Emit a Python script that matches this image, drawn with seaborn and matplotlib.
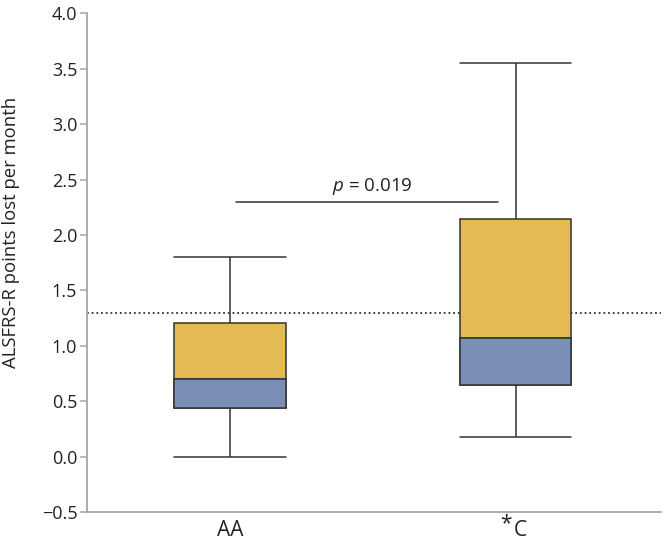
import pandas as pd
import matplotlib
matplotlib.use("Agg")
import matplotlib.pyplot as plt
import matplotlib.transforms as mtransforms
import seaborn as sns

# Summary values (ALSFRS-R decline by genotype)
genotypes = ["AA", "*C"]
whisker_low = [0.0, 0.18]
q1 = [0.44, 0.645]
median = [0.70, 1.07]
q3 = [1.205, 2.14]
whisker_high = [1.80, 3.55]

reference_line = 1.3
p_label = "0.019"
p_bracket_y = 2.30

yellow = "#E3BB52"
blue = "#7A8FB6"
dark = "#333333"
grey = "#A6A6A6"
text_col = "#222222"

# long table: the five summary points per group reproduce the box exactly
rows = []
for i, g in enumerate(genotypes):
    for v in (whisker_low[i], q1[i], median[i], q3[i], whisker_high[i]):
        rows.append({"genotype": g, "rate": v})
df = pd.DataFrame(rows)

sns.set_style("white")
plt.rcParams["font.family"] = ["Open Sans", "DejaVu Sans"]
plt.rcParams["mathtext.fontset"] = "custom"
plt.rcParams["mathtext.it"] = "Open Sans:italic"
plt.rcParams["mathtext.rm"] = "Open Sans"

fig = plt.figure(figsize=(6.64, 5.43), dpi=100)
ax = fig.add_axes([0.131, 0.0571, 0.865, 0.9184])

box_width = 0.39
line_kw = dict(color=dark, linewidth=1.1)
sns.boxplot(data=df, x="genotype", y="rate", order=genotypes, ax=ax,
            whis=(0, 100), width=box_width, color=yellow, saturation=1,
            linecolor=dark, linewidth=1.1, capwidths=box_width,
            showfliers=False)

# lower half of each box (Q1 to median) in blue
for i in range(len(genotypes)):
    ax.bar(i, median[i] - q1[i], bottom=q1[i], width=box_width,
           color=blue, edgecolor=dark, linewidth=1.1, zorder=3)

# reference line and significance bracket
ax.axhline(reference_line, color=dark, linestyle=(0, (1, 1.6)),
           linewidth=1.3, zorder=1)
ax.plot([0.023, 0.938], [p_bracket_y, p_bracket_y], **line_kw)
ax.text(0.5, p_bracket_y + 0.04, r"$\mathit{p}$ = " + p_label,
        ha="center", va="bottom", fontsize=13.5, color=text_col)

ax.set_xlim(-0.5, 1.51)
ax.set_ylim(-0.5, 4.0)
ax.set_yticks([-0.5, 0.0, 0.5, 1.0, 1.5, 2.0, 2.5, 3.0, 3.5, 4.0])
ax.set_yticklabels(["\u22120.5", "0.0", "0.5", "1.0", "1.5", "2.0",
                    "2.5", "3.0", "3.5", "4.0"])
ax.set_xticks(range(len(genotypes)))
ax.set_xticklabels([g.replace("*", "") for g in genotypes])

ax.set_xlabel("")
ax.set_ylabel("ALSFRS-R points lost per month", fontsize=13.3, color=text_col)
ax.yaxis.set_label_coords(-0.117, 0.56)

ax.tick_params(axis="y", direction="out", length=5, width=1.1, color=grey,
               labelsize=13, labelcolor=text_col, left=True, pad=2)
ax.tick_params(axis="x", length=0, labelsize=15, labelcolor=text_col, pad=6)

# the asterisk of "*C" sits raised like a superscript in front of the letter
shift = mtransforms.ScaledTranslation(5 / 100, 0, fig.dpi_scale_trans)
for lbl, g in zip(ax.get_xticklabels(), genotypes):
    if g.startswith("*"):
        lbl.set_transform(lbl.get_transform() + shift)
        ax.annotate("*", xy=(0, 1), xycoords=lbl, xytext=(-1.5, 5),
                    textcoords="offset points", ha="right", va="top",
                    fontsize=15, color=text_col)

for side in ("top", "right"):
    ax.spines[side].set_visible(False)
for side in ("left", "bottom"):
    ax.spines[side].set_color(grey)
    ax.spines[side].set_linewidth(1.3)

fig.savefig("out.png", dpi=100)
